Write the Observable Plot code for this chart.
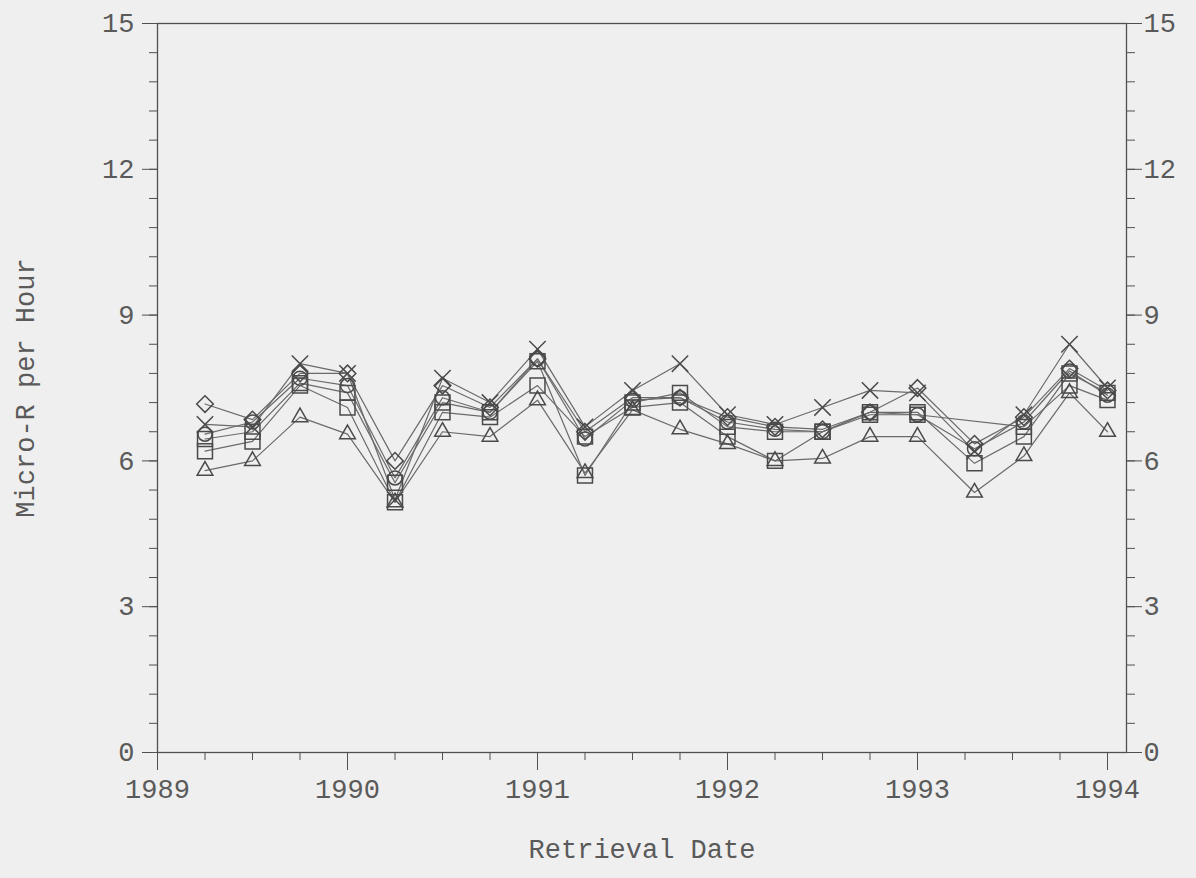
<!DOCTYPE html>
<html><head><meta charset="utf-8">
<script src="https://cdn.jsdelivr.net/npm/d3@7"></script>
<script src="https://cdn.jsdelivr.net/npm/@observablehq/plot@0.6"></script>
<style>
html,body{margin:0;padding:0;background:#efefef;}
#chart svg{display:block;}
</style>
</head><body><div id="chart"></div>
<script>
const dates = [1989.25, 1989.5, 1989.75, 1990.0, 1990.25, 1990.5, 1990.75, 1991.0, 1991.25, 1991.5, 1991.75, 1992.0, 1992.25, 1992.5, 1992.75, 1993.0, 1993.3, 1993.56, 1993.8, 1994.0];
const diamondSeries = [7.17, 6.85, 7.8, 7.8, 6.0, 7.55, 7.1, 8.1, 6.6, 7.3, 7.3, 6.9, 6.7, 6.65, 7.0, 7.5, 6.35, 6.9, 7.9, 7.45];
const crossSeries   = [6.75, 6.7, 8.0, 7.8, 5.2, 7.7, 7.2, 8.3, 6.7, 7.45, 8.0, 6.95, 6.75, 7.1, 7.45, 7.4, 6.2, 6.95, 8.4, 7.5];
const circleSeries  = [6.55, 6.8, 7.7, 7.55, 5.65, 7.3, 7.0, 8.1, 6.45, 7.25, 7.3, 6.8, 6.65, 6.6, 7.0, 6.95, 6.25, 6.8, 7.85, 7.35];
const squareSeriesA = [6.45, 6.6, 7.6, 7.4, 5.55, 7.2, 7.0, 8.05, 5.7, 7.2, 7.4, 6.7, 6.6, 6.6, 7.0, 7.0, 5.95, 6.5, 7.8, 7.4];
const squareSeriesB = [6.2, 6.4, 7.55, 7.1, 5.15, 7.0, 6.9, 7.55, 6.5, 7.1, 7.2, 6.5, 6.0, 6.6, 6.95, 6.95, null, 6.7, 7.55, 7.25];
const triangleSeries= [5.8, 6.0, 6.9, 6.55, 5.15, 6.6, 6.5, 7.25, 5.75, 7.05, 6.65, 6.35, 6.0, 6.05, 6.5, 6.5, 5.35, 6.1, 7.4, 6.6];

const seriesNames = ["Diamond", "Cross", "Circle", "SquareA", "SquareB", "Triangle"];
const seriesValues = [diamondSeries, crossSeries, circleSeries, squareSeriesA, squareSeriesB, triangleSeries];
const seriesSymbols = ["diamond2", "times", "circle", "square2", "square2", "triangle2"];
const seriesRadius = [7.5, 7.5, 7, 9.5, 9.5, 7.5];

const yMajor = [0, 3, 6, 9, 12, 15];
const yMinor = d3.range(0, 26).map(i => i * 0.6);
const xMajor = [1989, 1990, 1991, 1992, 1993, 1994];
const xMinor = d3.range(0, 21).map(i => 1989 + i * 0.25);

const rows = [];
seriesNames.forEach((name, si) => {
  seriesValues[si].forEach((v, i) => {
    if (v != null) rows.push({series: name, date: dates[i], value: v});
  });
});

const ink = "#505050";
const textInk = "#5a5a5a";
const dotMarks = seriesNames.map((name, si) =>
  Plot.dot(rows.filter(d => d.series === name), {
    x: "date", y: "value", symbol: seriesSymbols[si], r: seriesRadius[si],
    stroke: "#4a4a4a", strokeWidth: 1.5, fill: "none"
  })
);

const chart = Plot.plot({
  width: 1196,
  height: 878,
  marginLeft: 157,
  marginRight: 70,
  marginTop: 23,
  marginBottom: 126,
  style: {fontFamily: "'Liberation Mono', monospace", fontSize: "27px", background: "#efefef", color: textInk},
  x: {domain: [1989, 1994.1], axis: null},
  y: {domain: [0, 15], axis: null},
  marks: [
    Plot.frame({stroke: ink, strokeWidth: 1.3}),
    Plot.axisY(yMajor, {anchor: "left", tickSize: 15, tickPadding: 8, label: null, stroke: ink, fill: textInk}),
    Plot.axisY(yMinor, {anchor: "left", tickSize: 8, tickFormat: () => "", label: null, stroke: ink}),
    Plot.axisY(yMajor, {anchor: "right", tickSize: 15, tickPadding: 2, label: null, stroke: ink, fill: textInk}),
    Plot.axisY(yMinor, {anchor: "right", tickSize: 8, tickFormat: () => "", label: null, stroke: ink}),
    Plot.axisX(xMajor, {anchor: "bottom", tickSize: 18, tickPadding: 8, tickFormat: d => String(d), label: null, stroke: ink, fill: textInk}),
    Plot.axisX(xMinor, {anchor: "bottom", tickSize: 8, tickFormat: () => "", label: null, stroke: ink}),
    Plot.line(rows, {x: "date", y: "value", z: "series", stroke: "#6a6a6a", strokeWidth: 1.2}),
    ...dotMarks,
    Plot.text(["Retrieval Date"], {text: d => d, frameAnchor: "bottom", dy: 105, fill: textInk}),
    Plot.text(["Micro-R per Hour"], {text: d => d, frameAnchor: "left", textAnchor: "middle", dx: -132, rotate: -90, fill: textInk})
  ]
});
document.getElementById("chart").appendChild(chart);
</script>
</body></html>
